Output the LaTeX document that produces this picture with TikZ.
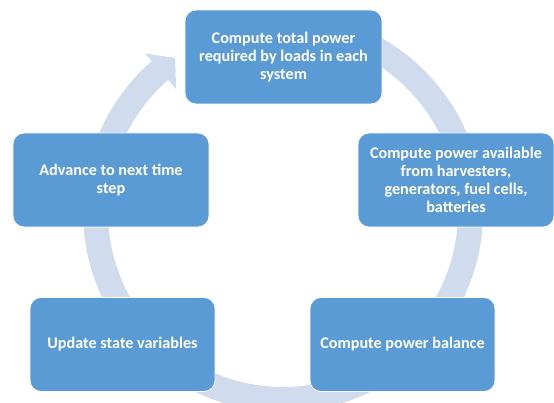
\documentclass[tikz,border=0pt]{standalone}
\usepackage{fontspec}
\setmainfont{Carlito}
\usepackage{xcolor}
\usetikzlibrary{shapes, arrows.meta}

\definecolor{stepblue}{HTML}{5B9BD5}
\definecolor{ringblue}{HTML}{D0DCEE}

\begin{document}
\begin{tikzpicture}[x=1pt, y=1pt]
    \useasboundingbox (0,0) rectangle (554,402);
    \tikzstyle{stage} = [draw=white, line width=0.8pt, fill=stepblue,
        rounded corners=11pt, text=white, align=center,
        font=\fontsize{16.2}{18}\selectfont\bfseries,
        minimum height=94pt, inner sep=0pt]
    \coordinate (hub) at (283,190);
    % circular arrow behind the stages
    \fill[ringblue] ([shift={(95:200)}]hub) arc[start angle=95, end angle=-229, radius=200]
        -- ([shift={(131:210)}]hub) -- ([shift={(125:188)}]hub)
        -- ([shift={(131:163)}]hub) -- ([shift={(131:175)}]hub)
        arc[start angle=-229, end angle=95, radius=175] -- cycle;
    \node[stage, minimum width=197pt] at (283.5,345) (demand)
        {Compute total power\\required by loads in each\\system};
    \node[stage, minimum width=196pt] at (456,222) (supply)
        {Compute power available\\from harvesters,\\generators, fuel cells,\\batteries};
    \node[stage, minimum width=185pt] at (402.5,57.5) (balance)
        {Compute power balance};
    \node[stage, minimum width=185pt] at (122.5,57.5) (update)
        {Update state variables};
    \node[stage, minimum width=196pt] at (111,222) (advance)
        {Advance to next time\\step};
\end{tikzpicture}
\end{document}
